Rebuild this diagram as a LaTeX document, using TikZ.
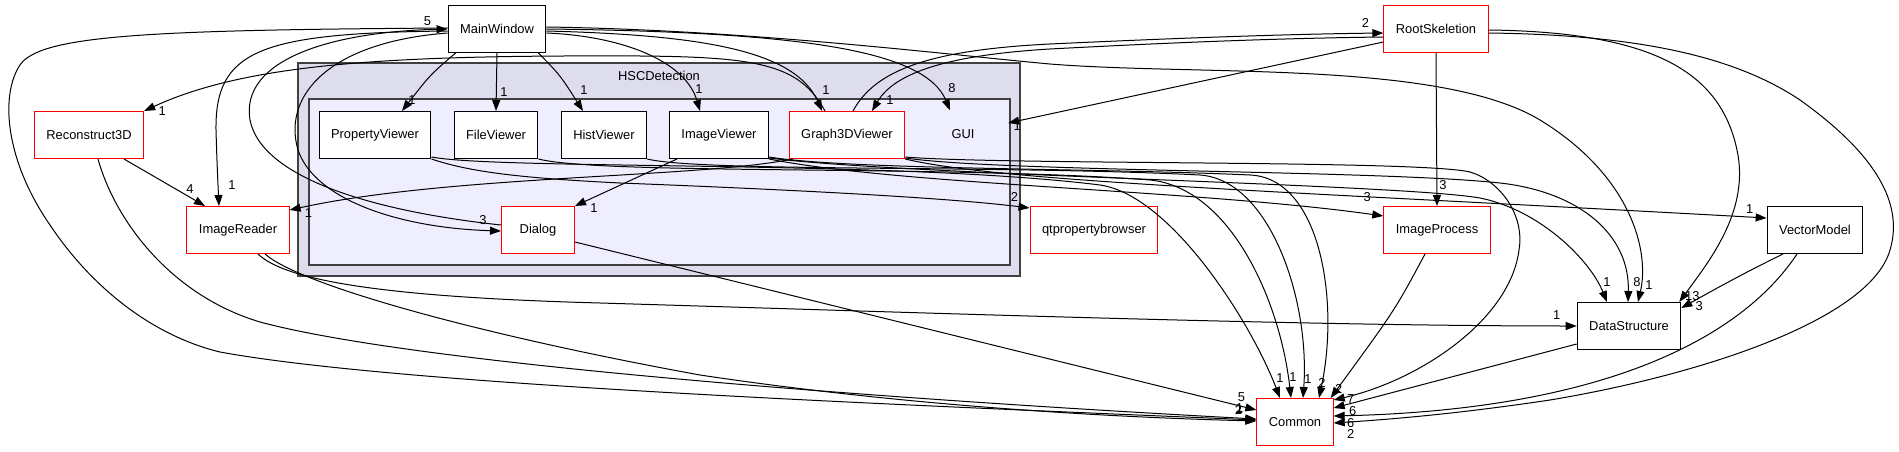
\documentclass[tikz,border=0pt]{standalone}
\usepackage{fontspec}
\setmainfont{Liberation Sans}
\usepackage{xcolor}
\usetikzlibrary{arrows.meta,positioning}
\definecolor{clusout}{HTML}{DDDDEE}
\definecolor{clusin}{HTML}{EEEEFF}

\begin{document}
\begin{tikzpicture}[
  x=1pt, y=-1pt,
  font=\fontsize{12.9pt}{15pt}\selectfont,
  dirbox/.style={draw=black, line width=1pt, fill=white, inner xsep=12pt, minimum width=73pt, minimum height=47pt},
  redbox/.style={dirbox, draw=red},
  clus/.style={draw=black!75, line width=1.5pt, fill=#1, inner sep=0pt},
  num/.style={inner sep=0pt, pos=1},
  dep/.style={->, line width=1pt},
  >={Triangle[length=11pt,width=8pt]},
]
\useasboundingbox (0,0) rectangle (1899,452);

\node[clus=clusout, minimum width=722pt, minimum height=213pt] (hsc) at (659,169.5) {};
\node[clus=clusin, minimum width=701pt, minimum height=166pt] (gui) at (659.5,182) {};
\node (hsclbl) at (659,76) {HSCDetection};
\node[minimum width=90pt, minimum height=47pt] (GUIlbl) at (963,134) {GUI};

\node[dirbox] (MainWindow) at (497,29) {MainWindow};
\node[redbox] (Reconstruct3D) at (89,135) {Reconstruct3D};
\node[dirbox] (PropertyViewer) at (375,135) {PropertyViewer};
\node[dirbox] (FileViewer) at (496,135) {FileViewer};
\node[dirbox] (HistViewer) at (604,135) {HistViewer};
\node[dirbox] (ImageViewer) at (719,135) {ImageViewer};
\node[redbox] (Graph3DViewer) at (847,135) {Graph3DViewer};
\node[redbox] (ImageReader) at (238,230) {ImageReader};
\node[redbox] (Dialog) at (538,230) {Dialog};
\node[redbox] (qtpropertybrowser) at (1094,230) {qtpropertybrowser};
\node[redbox] (RootSkeletion) at (1436,29) {RootSkeletion};
\node[redbox] (ImageProcess) at (1437,230) {ImageProcess};
\node[dirbox] (VectorModel) at (1815,230) {VectorModel};
\node[dirbox] (DataStructure) at (1629,326) {DataStructure};
\node[redbox] (Common) at (1295,422) {Common};

% MainWindow and its neighbours on the left
\draw[dep] ([yshift=5pt]Dialog.west) .. controls (380,212) and (262,180) .. (250,120) .. controls (240,60) and (330,32) .. (MainWindow.west) node[num, xshift=-20pt, yshift=8pt] {5};
\draw[dep] ([yshift=-2pt]MainWindow.west) .. controls (260,33) and (215,50) .. (216,130) .. controls (217,165) and (218,185) .. ([xshift=-19pt]ImageReader.north) node[num, xshift=13pt, yshift=21pt] {1};
\draw[dep] ([yshift=-4pt]MainWindow.west) .. controls (330,42) and (282,95) .. (298,150) .. controls (315,200) and (400,228) .. ([yshift=-1pt]Dialog.west) node[num, xshift=-18pt, yshift=11pt] {3};
\draw[dep] ([yshift=1pt]MainWindow.west) .. controls (150,30) and (40,35) .. (20,65) .. controls (0,95) and (5,160) .. (50,225) .. controls (90,285) and (150,335) .. (220,352) .. controls (400,385) and (900,405) .. ([yshift=2pt]Common.west) node[num, xshift=-17pt, yshift=12pt] {1};

% MainWindow into the GUI folder
\draw[dep] ([xshift=8pt]MainWindow.south west) .. controls (430,75) .. ([xshift=27pt]PropertyViewer.north) node[num, xshift=10pt, yshift=11pt] {1};
\draw[dep] (MainWindow.south) -- (FileViewer.north) node[num, xshift=8pt, yshift=19pt] {1};
\draw[dep] ([xshift=-8pt]MainWindow.south east) .. controls (560,75) .. ([xshift=-21pt]HistViewer.north) node[num, xshift=1pt, yshift=21pt] {1};
\draw[dep] ([yshift=-4pt]MainWindow.east) .. controls (620,36) and (685,60) .. ([xshift=-19pt]ImageViewer.north) node[num, xshift=-1pt, yshift=22pt] {1};
\draw[dep] ([yshift=-2pt]MainWindow.east) .. controls (700,35) and (795,50) .. ([xshift=-25pt]Graph3DViewer.north) node[num, xshift=4pt, yshift=21pt] {1};
\draw[dep] (MainWindow.east) .. controls (800,32) and (925,50) .. ([xshift=-13pt]GUIlbl.north) node[num, xshift=2pt, yshift=22pt] {8};
\draw[dep] ([yshift=2pt]MainWindow.east) .. controls (750,30) and (950,55) .. (1050,64) .. controls (1200,76) and (1440,60) .. (1540,120) .. controls (1630,175) and (1650,250) .. ([xshift=9pt]DataStructure.north) node[num, xshift=11pt, yshift=17pt] {1};

% Graph3DViewer and RootSkeletion
\draw[dep] ([xshift=-22pt]Graph3DViewer.north) .. controls (800,65) and (760,57) .. (640,56) .. controls (400,55) and (250,62) .. (Reconstruct3D.north east) node[num, xshift=18pt] {1};
\draw[dep] ([xshift=6pt]Graph3DViewer.north) .. controls (875,70) and (930,50) .. (1050,44) .. controls (1200,37) and (1300,34) .. ([yshift=-4pt]RootSkeletion.west) node[num, xshift=-18pt, yshift=10pt] {2};
\draw[dep] ([yshift=-8pt]RootSkeletion.west) .. controls (1300,38) and (1200,41) .. (1050,49) .. controls (950,55) and (895,72) .. ([xshift=25pt]Graph3DViewer.north) node[num, xshift=18pt, yshift=11pt] {1};
\draw[dep] ([yshift=-13pt]RootSkeletion.west) -- ([yshift=11pt]GUIlbl.east) node[num, xshift=9pt, yshift=-3pt] {1};
\draw[dep] (RootSkeletion.south) -- (ImageProcess.north) node[num, xshift=6pt, yshift=21pt] {3};
\draw[dep] ([yshift=-1pt]RootSkeletion.east) .. controls (1650,32) and (1720,70) .. (1737,150) .. controls (1750,210) and (1710,260) .. ([xshift=-2pt]DataStructure.north east) node[num, xshift=13pt, yshift=6pt] {13};
\draw[dep] ([yshift=-4pt]RootSkeletion.east) .. controls (1650,35) and (1740,60) .. (1800,100) .. controls (1870,150) and (1905,200) .. (1890,250) .. controls (1870,320) and (1700,375) .. (1550,400) .. controls (1450,415) and (1380,420) .. ([yshift=-1pt]Common.east) node[num, xshift=17pt, yshift=-11pt] {2};

% left side
\draw[dep] ([xshift=35pt]Reconstruct3D.south) -- ([xshift=-33pt]ImageReader.north) node[num, xshift=-15pt, yshift=17pt] {4};
\draw[dep] ([xshift=9pt]Reconstruct3D.south) .. controls (115,220) and (170,295) .. (260,322) .. controls (420,365) and (900,400) .. ([yshift=3pt]Common.west) node[num, xshift=-18pt, yshift=9pt] {2};
\draw[dep] ([xshift=27pt]ImageReader.south) .. controls (300,285) and (480,335) .. (700,375) .. controls (900,405) and (1100,417) .. ([yshift=1pt]Common.west) node[num, xshift=-17pt, yshift=12pt] {1};
\draw[dep] ([xshift=20pt]ImageReader.south) .. controls (285,280) and (380,297) .. (600,303) .. controls (900,312) and (1300,326) .. (DataStructure.west) node[num, xshift=-20pt, yshift=11pt] {1};
\draw[dep] ([xshift=4pt]Graph3DViewer.south west) .. controls (700,178) and (450,175) .. ([yshift=20pt]ImageReader.east) node[num, xshift=19pt, yshift=-3pt] {1};
\draw[dep] ([xshift=8pt]ImageViewer.south west) -- (Dialog.north east) node[num, xshift=19pt, yshift=-2pt] {1};
\draw[dep] ([yshift=-12pt]Dialog.east) -- ([yshift=12pt]Common.west) node[num, xshift=-15pt, yshift=13pt] {5};

% the viewers to the right
\draw[dep] (PropertyViewer.south east) .. controls (470,172) and (520,178) .. (620,183) .. controls (800,190) and (950,198) .. ([yshift=22pt]qtpropertybrowser.west) node[num, xshift=-15pt, yshift=11pt] {2};
\draw[dep] ([yshift=2pt]PropertyViewer.south east) .. controls (500,170) and (900,160) .. (1100,185) .. controls (1170,195) and (1250,320) .. ([xshift=-15pt]Common.north) node[num, yshift=20pt] {1};
\draw[dep] (FileViewer.south east) .. controls (600,175) and (950,165) .. (1150,180) .. controls (1230,188) and (1280,300) .. ([xshift=-4pt]Common.north) node[num, xshift=2pt, yshift=21pt] {1};
\draw[dep] (HistViewer.south east) .. controls (700,172) and (1000,165) .. (1200,175) .. controls (1270,180) and (1310,300) .. ([xshift=8pt]Common.north) node[num, xshift=5pt, yshift=19pt] {1};
\draw[dep] ([yshift=2pt]ImageViewer.south east) .. controls (850,170) and (1100,168) .. (1250,175) .. controls (1320,178) and (1340,300) .. ([xshift=24pt]Common.north) node[num, xshift=3pt, yshift=15pt] {2};
\draw[dep] (ImageViewer.south east) .. controls (900,185) and (1200,190) .. ([yshift=14pt]ImageProcess.west) node[num, xshift=-16pt, yshift=19pt] {3};
\draw[dep] ([yshift=1pt]ImageViewer.south east) .. controls (900,175) and (1400,184) .. (1480,198) .. controls (1540,210) and (1590,260) .. ([xshift=-22pt]DataStructure.north) node[num, yshift=20pt] {1};
\draw[dep] ([yshift=1pt]Graph3DViewer.south east) .. controls (1000,172) and (1380,170) .. (1500,183) .. controls (1580,192) and (1630,235) .. ([xshift=-1pt]DataStructure.north) node[num, xshift=9pt, yshift=20pt] {8};
\draw[dep] (Graph3DViewer.south east) .. controls (1000,182) and (1300,192) .. ([yshift=12pt]VectorModel.west) node[num, xshift=-17pt, yshift=9pt] {1};
\draw[dep] ([yshift=2pt]Graph3DViewer.south east) .. controls (1000,165) and (1420,160) .. (1470,172) .. controls (1500,181) and (1525,215) .. (1519,250) .. controls (1510,320) and (1420,380) .. ([yshift=22pt]Common.east) node[num, xshift=17pt, yshift=1pt] {7};

% into Common and DataStructure
\draw[dep] ([xshift=-12pt]ImageProcess.south) .. controls (1395,310) .. ([xshift=-3pt]Common.north east) node[num, xshift=8pt, yshift=9pt] {2};
\draw[dep] ([yshift=-18pt]DataStructure.west) -- ([yshift=14pt]Common.east) node[num, xshift=19pt, yshift=-3pt] {6};
\draw[dep] ([xshift=-32pt]VectorModel.south) .. controls (1740,275) and (1710,292) .. ([yshift=18pt]DataStructure.east) node[num, xshift=18pt, yshift=2pt] {3};
\draw[dep] ([xshift=-18pt]VectorModel.south) .. controls (1740,340) and (1600,410) .. ([yshift=6pt]Common.east) node[num, xshift=17pt, yshift=-7pt] {6};
\end{tikzpicture}
\end{document}
